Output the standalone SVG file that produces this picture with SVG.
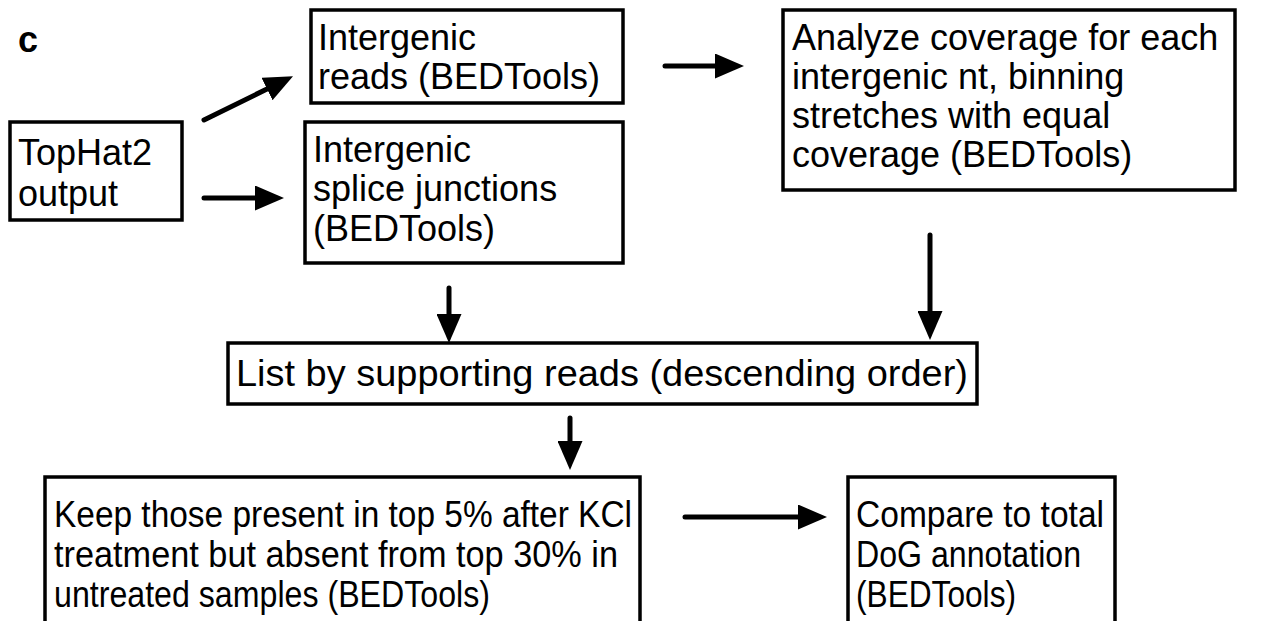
<svg xmlns="http://www.w3.org/2000/svg" width="1262" height="621" viewBox="0 0 1262 621">
<style>
  .box { fill: #fff; stroke: #000; stroke-width: 3.5; }
  .t { font-family: "Liberation Sans", Arial, sans-serif; font-size: 36px; fill: #000; }
  .c { stroke: #000; stroke-width: 5; stroke-linecap: round; fill: none; }
</style>
<defs>
  <marker id="ah" markerUnits="userSpaceOnUse" markerWidth="29" markerHeight="25" refX="0" refY="12.5" orient="auto">
    <path d="M0,0 L29,12.5 L0,25 z" fill="#000"/>
  </marker>
</defs>
<rect width="1262" height="621" fill="#fff"/>
<text x="18" y="52" class="t" style="font-weight:bold;font-size:36px">c</text>

<g id="connectors">
  <line class="c" x1="204" y1="120" x2="267" y2="89" marker-end="url(#ah)"/>
  <line class="c" x1="204" y1="198" x2="255" y2="198" marker-end="url(#ah)"/>
  <line class="c" x1="665" y1="66" x2="715" y2="66" marker-end="url(#ah)"/>
  <line class="c" x1="449" y1="288" x2="449" y2="314" marker-end="url(#ah)"/>
  <line class="c" x1="930" y1="235" x2="930" y2="311" marker-end="url(#ah)"/>
  <line class="c" x1="570" y1="418" x2="570" y2="441" marker-end="url(#ah)"/>
  <line class="c" x1="685" y1="517" x2="798" y2="517" marker-end="url(#ah)"/>
</g>

<g id="tophat">
  <rect class="box" x="10" y="122" width="172" height="98"/>
  <text class="t" x="18" y="165">TopHat2</text>
  <text class="t" x="18" y="206">output</text>
</g>
<g id="reads">
  <rect class="box" x="311" y="10" width="312" height="93"/>
  <text class="t" x="318" y="50">Intergenic</text>
  <text class="t" x="318" y="89">reads (BEDTools)</text>
</g>
<g id="splice">
  <rect class="box" x="305" y="122" width="318" height="141"/>
  <text class="t" x="313" y="162">Intergenic</text>
  <text class="t" x="313" y="201">splice junctions</text>
  <text class="t" x="313" y="241">(BEDTools)</text>
</g>
<g id="coverage">
  <rect class="box" x="783" y="10" width="452" height="180"/>
  <text class="t" x="792" y="50">Analyze coverage for each</text>
  <text class="t" x="792" y="89">intergenic nt, binning</text>
  <text class="t" x="792" y="128">stretches with equal</text>
  <text class="t" x="792" y="167">coverage (BEDTools)</text>
</g>
<g id="list">
  <rect class="box" x="228" y="343" width="749" height="61"/>
  <text class="t" x="236" y="386" textLength="732" lengthAdjust="spacingAndGlyphs">List by supporting reads (descending order)</text>
</g>
<g id="keep">
  <rect class="box" x="45" y="477" width="595" height="170"/>
  <text class="t" x="54" y="527" textLength="578" lengthAdjust="spacingAndGlyphs">Keep those present in top 5% after KCl</text>
  <text class="t" x="54" y="567" textLength="564" lengthAdjust="spacingAndGlyphs">treatment but absent from top 30% in</text>
  <text class="t" x="54" y="607" textLength="436" lengthAdjust="spacingAndGlyphs">untreated samples (BEDTools)</text>
</g>
<g id="compare">
  <rect class="box" x="848" y="477" width="267" height="170"/>
  <text class="t" x="856" y="527" textLength="248" lengthAdjust="spacingAndGlyphs">Compare to total</text>
  <text class="t" x="856" y="567" textLength="225" lengthAdjust="spacingAndGlyphs">DoG annotation</text>
  <text class="t" x="856" y="607" textLength="160" lengthAdjust="spacingAndGlyphs">(BEDTools)</text>
</g>
</svg>
